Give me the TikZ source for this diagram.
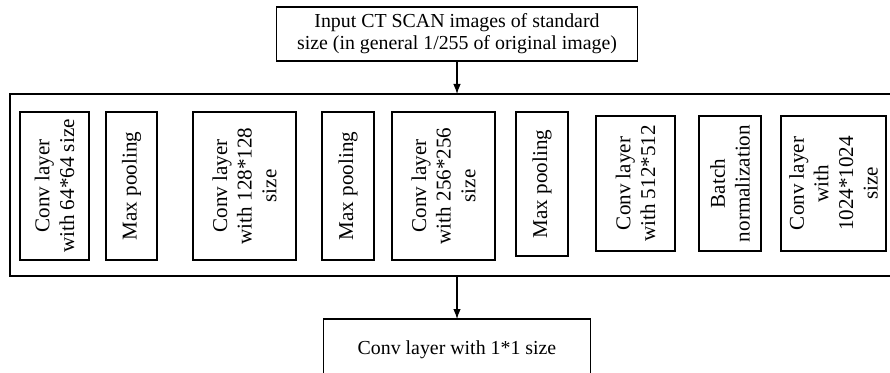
\documentclass[tikz,border=0pt]{standalone}
\usepackage{fontspec}
\setmainfont{Liberation Serif}
\usetikzlibrary{arrows.meta,positioning}

\begin{document}
\begin{tikzpicture}[>={Latex[length=2mm,width=1.5mm]},
   font=\fontsize{11.3}{12.6}\selectfont,line width=0.6pt,
   blk/.style={draw,align=center,inner sep=0pt,outer sep=0pt},
   lyr/.style={blk,rotate=90,minimum width=2.96cm,font=\fontsize{12}{14}\selectfont}]
  \useasboundingbox (0,0) rectangle (17.8,7.44);
  % input and output
  \node[blk,minimum width=7.22cm,minimum height=1.08cm] (in) at (9.14,6.76)
    {Input CT SCAN images of standard\\size (in general 1/255 of original image)};
  \node[blk,minimum width=5.34cm,minimum height=1.24cm] (out) at (9.14,0.44)
    {Conv layer with 1*1 size};
  % network block
  \node[blk,minimum width=17.88cm,minimum height=3.64cm] (net) at (9.14,3.74) {};
  \node[lyr,minimum height=1.38cm] (c64) at (1.09,3.72) {Conv layer\\with 64*64 size};
  \node[lyr,minimum height=1.02cm] (mp1) at (2.63,3.72) {Max pooling};
  \node[lyr,minimum height=2.06cm] (c128) at (4.89,3.72) {Conv layer\\with 128*128\\size};
  \node[lyr,minimum height=1.04cm] (mp2) at (6.96,3.72) {Max pooling};
  \node[lyr,minimum height=2.06cm] (c256) at (8.87,3.72) {Conv layer\\with 256*256\\size};
  \node[lyr,minimum height=1.04cm,minimum width=2.88cm] (mp3) at (10.84,3.76) {Max pooling};
  \node[lyr,minimum height=1.58cm,minimum width=2.70cm] (c512) at (12.71,3.77) {Conv layer\\with 512*512};
  \node[lyr,minimum height=1.24cm,minimum width=2.70cm] (bn) at (14.60,3.77) {Batch\\normalization};
  \node[lyr,minimum height=2.10cm,minimum width=2.70cm] (c1024) at (16.67,3.77) {Conv layer\\with\\1024*1024\\size};
  \draw[->] (in.south) -- (in.south |- net.north);
  \draw[->] (net.south -| out.north) -- (out.north);
\end{tikzpicture}
\end{document}
